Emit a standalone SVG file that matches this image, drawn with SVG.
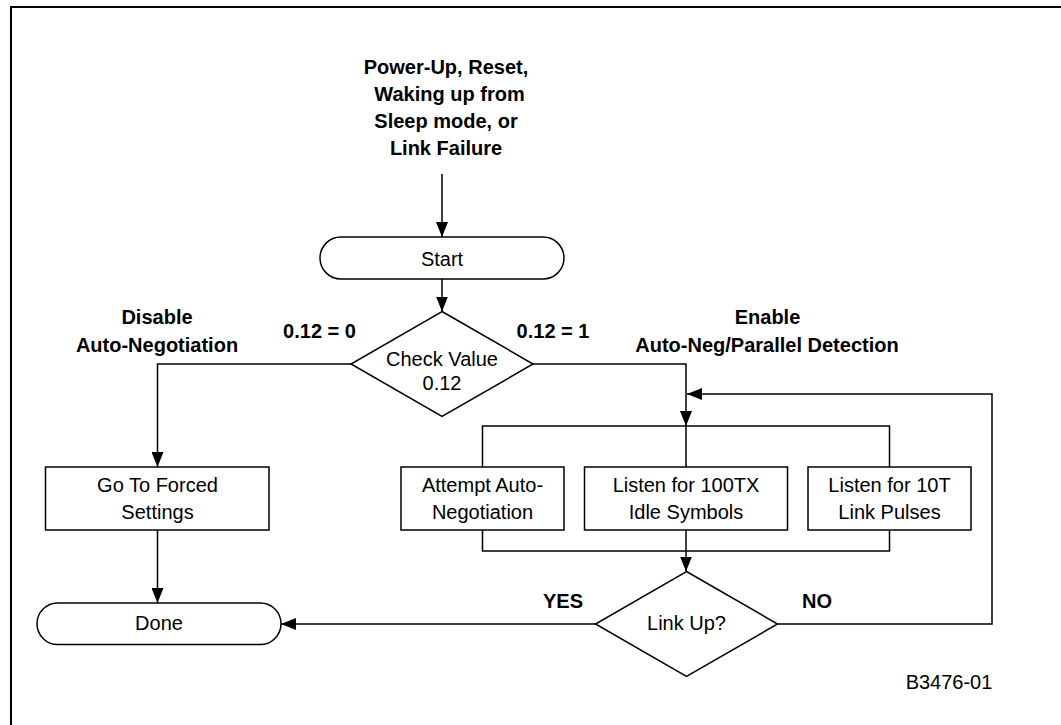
<svg xmlns="http://www.w3.org/2000/svg" width="1061" height="725" viewBox="0 0 1061 725">
<style>
.t{font-family:"Liberation Sans",Arial,sans-serif;font-size:20px;fill:#000;text-anchor:middle}
.b{font-weight:bold}
.shape{fill:#fff;stroke:#000;stroke-width:1.5}
.ln{fill:none;stroke:#000;stroke-width:1.5}
.ar{fill:none;stroke:#000;stroke-width:1.5;marker-end:url(#ah)}
</style>
<defs>
<marker id="ah" markerUnits="userSpaceOnUse" markerWidth="15" markerHeight="12" refX="15" refY="6" orient="auto">
<path d="M0,0 L15,6 L0,12 z" fill="#000"/>
</marker>
</defs>
<rect width="1061" height="725" fill="#fff"/>
<path d="M11,725 V7 H1061" fill="none" stroke="#000" stroke-width="2"/>

<g id="title">
<text class="t b" x="446" y="73.5">Power-Up, Reset,</text>
<text class="t b" x="449.5" y="100.5">Waking up from</text>
<text class="t b" x="446" y="127.5">Sleep mode, or</text>
<text class="t b" x="446" y="154.5">Link Failure</text>
</g>

<g id="connectors">
<path class="ar" d="M442,174 V237"/>
<path class="ar" d="M442,279 V311.5"/>
<path class="ar" d="M351,364 H157.5 V467"/>
<path class="ar" d="M533,364 H686 V426"/>
<path class="ar" d="M777.5,624 H992 V394 H687"/>
<path class="ln" d="M482.5,467 V426 H889.5 V467 M686,426 V467"/>
<path class="ln" d="M482.5,530 V551 H889.5 V530"/>
<path class="ar" d="M686,530 V571.5"/>
<path class="ar" d="M157.5,530 V603"/>
<path class="ar" d="M595.5,624 H281"/>
</g>

<g id="labels">
<text class="t b" x="157" y="324.3">Disable</text>
<text class="t b" x="157" y="352.3">Auto-Negotiation</text>
<text class="t b" x="319.5" y="338.3">0.12 = 0</text>
<text class="t b" x="553" y="338.3">0.12 = 1</text>
<text class="t b" x="767.5" y="324">Enable</text>
<text class="t b" x="767" y="352">Auto-Neg/Parallel Detection</text>
<text class="t b" x="563" y="608.3">YES</text>
<text class="t b" x="817" y="608.3">NO</text>
<text class="t" x="949" y="689">B3476-01</text>
</g>

<g id="start">
<rect class="shape" x="320" y="237" width="244" height="42" rx="21"/>
<text class="t" x="442" y="265.7">Start</text>
</g>

<g id="check">
<polygon class="shape" points="442,311.5 533,364 442,416.5 351,364"/>
<text class="t" x="442" y="366">Check Value</text>
<text class="t" x="442" y="390">0.12</text>
</g>

<g id="forced">
<rect class="shape" x="45.5" y="467" width="223.5" height="63"/>
<text class="t" x="157.5" y="491.7">Go To Forced</text>
<text class="t" x="157.5" y="519.3">Settings</text>
</g>

<g id="attempt">
<rect class="shape" x="401" y="467" width="163" height="63"/>
<text class="t" x="482.5" y="491.7">Attempt Auto-</text>
<text class="t" x="482.5" y="519.3">Negotiation</text>
</g>

<g id="listen100">
<rect class="shape" x="584.5" y="467" width="203" height="63"/>
<text class="t" x="686" y="491.7">Listen for 100TX</text>
<text class="t" x="686" y="519.3">Idle Symbols</text>
</g>

<g id="listen10">
<rect class="shape" x="808" y="467" width="163" height="63"/>
<text class="t" x="889.5" y="491.7">Listen for 10T</text>
<text class="t" x="889.5" y="519.3">Link Pulses</text>
</g>

<g id="linkup">
<polygon class="shape" points="686.5,571.5 777.5,624 686.5,676.5 595.5,624"/>
<text class="t" x="686.5" y="630">Link Up?</text>
</g>

<g id="done">
<rect class="shape" x="37" y="603" width="244" height="41.5" rx="20.75"/>
<text class="t" x="159" y="630">Done</text>
</g>
</svg>
